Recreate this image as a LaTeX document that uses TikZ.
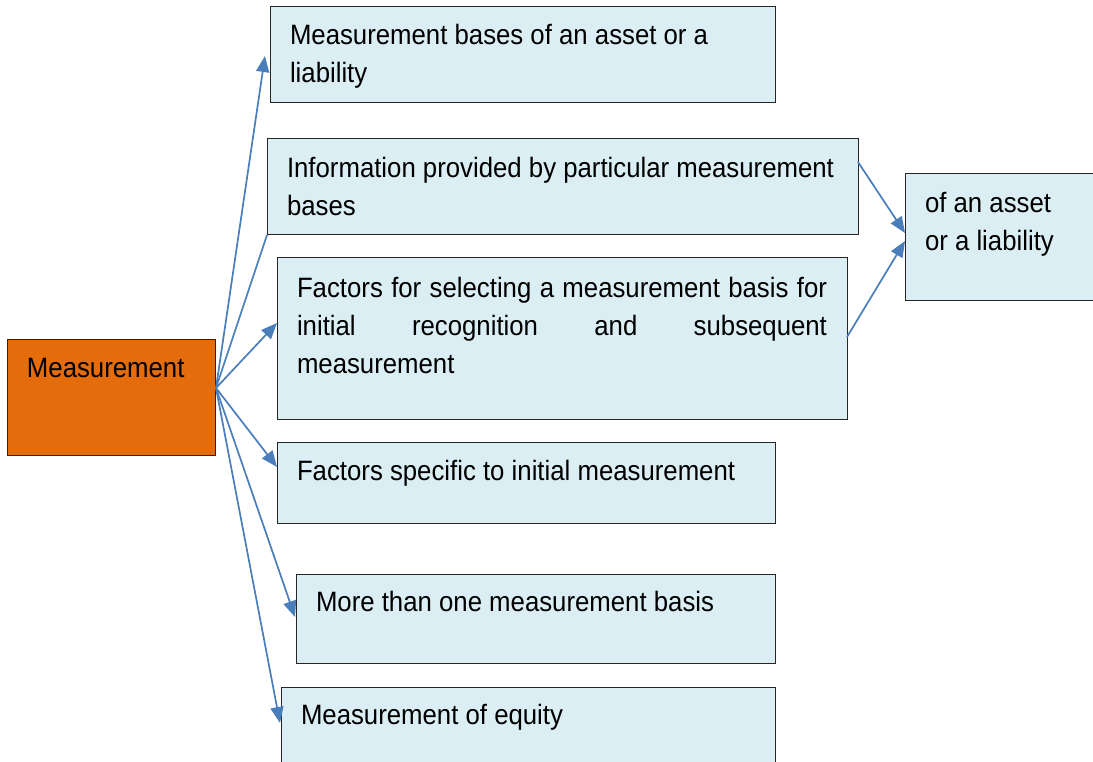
\documentclass[tikz,border=0pt]{standalone}
\usepackage{fontspec}
\setmainfont{Liberation Sans}[FakeStretch=0.92]
\usetikzlibrary{arrows.meta,calc}
\definecolor{boxfill}{HTML}{DBEEF4}
\definecolor{orangefill}{HTML}{E46C0A}
\definecolor{arrowblue}{HTML}{4A7EBB}
\begin{document}
\begin{tikzpicture}[x=1pt,y=-1pt,
  box/.style={draw=black!85,line width=1pt,fill=boxfill,anchor=north west,inner sep=0pt,outer sep=0pt},
  obox/.style={box,fill=orangefill},
  txt/.style={anchor=base west,inner sep=0pt,outer sep=0pt,align=left,font=\fontsize{28}{38}\selectfont},
  conn/.style={draw=arrowblue,line width=1.7pt},
  arr/.style={conn,-{Triangle[length=16pt,width=13pt]}}]
\useasboundingbox (0,0) rectangle (1093,762);
% boxes
\node[obox,minimum width=208pt,minimum height=116pt] (m) at (7,339) {};
\node[box,minimum width=505pt,minimum height=96pt] (b1) at (270,7) {};
\node[box,minimum width=591pt,minimum height=96pt] (b2) at (267,139) {};
\node[box,minimum width=570pt,minimum height=161pt] (b3) at (277,258) {};
\node[box,minimum width=498pt,minimum height=81pt] (b4) at (277,442) {};
\node[box,minimum width=479pt,minimum height=89pt] (b5) at (296,574) {};
\node[box,minimum width=494pt,minimum height=85pt] (b6) at (281,687) {};
\node[box,minimum width=195pt,minimum height=127pt] (b7) at (905,174) {};
% texts (base anchor = baseline of last line)
\node[txt] (tm) at (27,377) {Measurement};
\node[txt] (t1) at (290,83) {Measurement bases of an asset or a\\liability};
\node[txt] (t2) at (287,216) {Information provided by particular measurement\\bases};
\node[txt] (t3) at (297,373) {\hbox to 530pt{Factors for selecting a measurement basis for}\\\hbox to 530pt{initial\hfill recognition\hfill and\hfill subsequent}\\measurement};
\node[txt] (t4) at (297,480) {Factors specific to initial measurement};
\node[txt] (t5) at (316,611) {More than one measurement basis};
\node[txt] (t6) at (301,724) {Measurement of equity};
\node[txt] (t7) at (925,251) {of an asset\\or a liability};
% connectors
\coordinate (src) at ($(m.north east)+(1,49)$);
\draw[arr] (src) -- ($(b1.north west)+(-5,49)$);
\draw[conn] (src) -- (b2.south west);
\draw[arr] (src) -- ($(b3.north west)+(0,65)$);
\draw[arr] (src) -- ($(b4.north west)+(0,25)$);
\draw[arr] (src) -- ($(b5.north west)+(-1,43)$);
\draw[arr] (src) -- ($(b6.north west)+(-1,36)$);
\draw[arr] ($(b2.north east)+(0,23)$) -- ($(b7.north west)+(0,59)$);
\draw[arr] ($(b3.north east)+(0,79)$) -- ($(b7.north west)+(0,67)$);
\end{tikzpicture}
\end{document}
